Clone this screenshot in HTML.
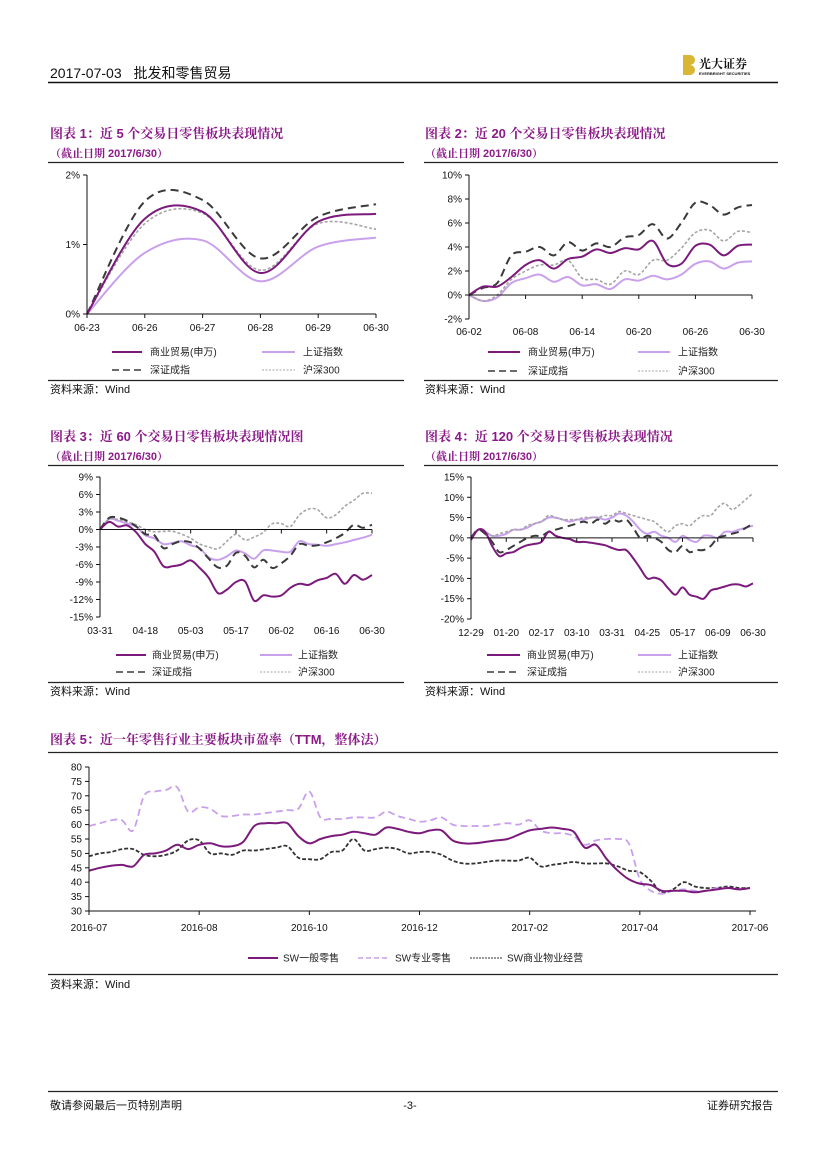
<!DOCTYPE html>
<html><head><meta charset="utf-8">
<style>
html,body{margin:0;padding:0;background:#fff;}
body{width:827px;height:1169px;position:relative;overflow:hidden;font-family:"Liberation Sans","Noto Sans CJK SC",sans-serif;}
svg{position:absolute;left:0;top:0;}
.t{font-family:"Liberation Sans","Noto Sans CJK SC",sans-serif;}
.ttl{font-family:"Liberation Sans","Noto Serif CJK SC",serif;font-weight:bold;fill:#8B1A89;font-size:13px;}
.sub{font-family:"Liberation Sans","Noto Serif CJK SC",serif;font-weight:bold;fill:#8B1A89;font-size:11px;}
.ax{font-size:10px;fill:#111;}
.lg{font-size:10px;fill:#222;}
</style></head>
<body>
<svg id="page" width="827" height="1169" viewBox="0 0 827 1169">
  <g>
    <text class="t" x="50" y="78" font-size="14" fill="#111">2017-07-03 <tspan dx="8">批发和零售贸易</tspan></text>
    <line x1="48" y1="82.5" x2="778" y2="82.5" stroke="#111" stroke-width="1.5"/>
    <g>
      <path d="M683 55 h7 a5 5 0 0 1 0 10 a5 5 0 0 1 0 10 h-7 z" fill="#D9B634"/>
      <text x="699" y="68" font-size="12" font-weight="bold" fill="#111" font-family="Liberation Serif,'Noto Serif CJK SC',serif">光大证券</text>
      <text x="699" y="75" font-size="4" fill="#111" font-weight="bold">EVERBRIGHT SECURITIES</text>
    </g>
  </g>

  <!-- titles -->
  <text class="ttl" x="50" y="138">图表 1：近 5 个交易日零售板块表现情况</text>
  <text class="sub" x="50" y="157">（截止日期 2017/6/30）</text>
  <text class="ttl" x="425" y="138">图表 2：近 20 个交易日零售板块表现情况</text>
  <text class="sub" x="425" y="157">（截止日期 2017/6/30）</text>
  <text class="ttl" x="50" y="441">图表 3：近 60 个交易日零售板块表现情况图</text>
  <text class="sub" x="50" y="460">（截止日期 2017/6/30）</text>
  <text class="ttl" x="425" y="441">图表 4：近 120 个交易日零售板块表现情况</text>
  <text class="sub" x="425" y="460">（截止日期 2017/6/30）</text>
  <text class="ttl" x="50" y="744">图表 5：近一年零售行业主要板块市盈率（TTM，整体法）</text>

  <g stroke="#222" stroke-width="1.2">
    <line x1="48" y1="162.5" x2="404" y2="162.5"/><line x1="424" y1="162.5" x2="778" y2="162.5"/>
    <line x1="48" y1="380.5" x2="404" y2="380.5"/><line x1="424" y1="380.5" x2="778" y2="380.5"/>
    <line x1="48" y1="465.5" x2="404" y2="465.5"/><line x1="424" y1="465.5" x2="778" y2="465.5"/>
    <line x1="48" y1="682.5" x2="404" y2="682.5"/><line x1="424" y1="682.5" x2="778" y2="682.5"/>
    <line x1="48" y1="752.5" x2="778" y2="752.5"/><line x1="48" y1="974.5" x2="778" y2="974.5"/>
    <line x1="48" y1="1091.5" x2="778" y2="1091.5"/>
  </g>
  <g class="t" font-size="11" fill="#111">
    <text x="50" y="393">资料来源：Wind</text>
    <text x="425" y="393">资料来源：Wind</text>
    <text x="50" y="695">资料来源：Wind</text>
    <text x="425" y="695">资料来源：Wind</text>
    <text x="50" y="988">资料来源：Wind</text>
    <text x="50" y="1109">敬请参阅最后一页特别声明</text>
    <text x="410" y="1109" text-anchor="middle">-3-</text>
    <text x="773" y="1109" text-anchor="end">证券研究报告</text>
  </g>
  <g id="charts"></g>
</svg>
<script>
// ---- Chart 1 data ----
const c1Cats = ["06-23","06-26","06-27","06-28","06-29","06-30"];
const c1Trade = [0,1.37,1.47,0.59,1.33,1.44];
const c1SH = [0,0.88,1.06,0.47,0.97,1.1];
const c1SZ = [0,1.62,1.64,0.8,1.4,1.58];
const c1HS = [0,1.3,1.45,0.63,1.3,1.22];
const c1YTicks = [0,1,2];
// ---- Chart 2 data ----
const c2TickLabels = ["06-02","06-08","06-14","06-20","06-26","06-30"];
const c2Trade = [0,0.7,0.7,1.5,2.5,2.9,2.2,3.0,3.2,3.8,3.5,3.9,3.8,4.5,2.6,2.6,4.1,4.2,3.3,4.1,4.2];
const c2SH = [0,-0.5,-0.2,1.0,1.4,1.7,1.1,1.5,0.8,0.9,0.5,1.3,1.2,1.6,1.3,1.7,2.6,2.8,2.2,2.7,2.8];
const c2SZ = [0,0.6,1.0,3.3,3.6,4.0,3.3,4.4,3.7,4.3,4.0,4.8,5.0,5.9,4.7,6.0,7.7,7.5,6.7,7.3,7.5];
const c2HS = [0,-0.5,0,1.3,2.0,2.5,2.5,2.9,1.4,1.3,0.9,2.0,1.7,2.9,2.9,3.9,5.2,5.4,4.5,5.3,5.2];
const c2YTicks = [-2,0,2,4,6,8,10];
// ---- Chart 3 data ----
const c3TickLabels = ["03-31","04-18","05-03","05-17","06-02","06-16","06-30"];
const c3Trade = [0,1.3,0.5,0.7,-0.5,-2.5,-3.8,-6.3,-6.3,-6.0,-5.3,-6.6,-8.3,-10.9,-10.3,-9.0,-8.9,-12.2,-11.3,-11.5,-11.3,-10.0,-9.3,-9.5,-8.7,-8.3,-7.6,-9.3,-7.8,-8.6,-7.8];
const c3SH = [0,1.8,1.5,1.0,0.5,-1.0,-1.5,-2.5,-2.3,-2.0,-2.7,-3.2,-4.8,-5.2,-4.6,-3.6,-4.1,-5.0,-3.6,-3.6,-3.8,-3.8,-2.0,-2.5,-2.6,-2.8,-2.5,-2.2,-1.8,-1.4,-0.9];
const c3SZ = [0,2.0,2.0,1.5,0.5,-0.8,-1.0,-3.2,-2.5,-2.0,-2.2,-3.3,-5.0,-6.5,-6.2,-4.0,-4.5,-6.5,-5.2,-6.6,-5.8,-4.5,-2.5,-2.8,-2.7,-2.2,-1.5,-0.6,0.8,0.3,0.8];
const c3HS = [0,1.8,1.7,1.3,0.8,0.0,-0.4,-0.3,-0.3,-0.8,-1.5,-2.5,-3.0,-3.3,-2.0,-0.8,-1.8,-1.3,-0.5,1.0,1.0,0.5,2.5,3.5,3.4,2.0,2.5,4.0,5.0,6.2,6.2];
const c3YTicks = [-15,-12,-9,-6,-3,0,3,6,9];
// ---- Chart 4 data ----
const c4TickLabels = ["12-29","01-20","02-17","03-10","03-31","04-25","05-17","06-09","06-30"];
const c4Trade = [-0.5,2.0,1.5,-2.0,-4.5,-3.8,-3.5,-2.5,-1.8,-1.5,-1.0,1.5,0.5,0.0,-0.3,-1.0,-1.0,-1.2,-1.5,-1.8,-2.5,-3.0,-3.0,-5.0,-7.5,-10.0,-9.8,-10.5,-12.5,-14.0,-12.2,-14.0,-14.5,-15.0,-13.0,-12.5,-12.0,-11.5,-11.5,-12.0,-11.2];
const c4SH = [0,2.0,1.5,0.5,0.5,1.0,2.0,2.0,2.5,3.5,4.0,5.0,5.0,4.5,4.0,4.5,4.5,5.0,5.0,4.5,5.0,6.0,5.5,4.0,2.0,1.0,1.5,0.5,0.0,-1.0,0.5,-0.5,-1.0,0.5,0.5,0.0,1.5,1.5,2.0,2.5,3.0];
const c4SZ = [0,2.0,1.0,-1.0,-3.5,-3.0,-2.0,-1.0,0.0,0.5,0.5,1.5,2.0,2.5,3.0,3.5,4.0,3.5,4.5,3.5,4.5,4.0,4.5,2.5,0.0,0.5,0.0,-1.0,-3.0,-3.5,-2.0,-3.5,-3.0,-3.0,-2.0,0.0,0.5,1.0,1.5,2.5,3.5];
const c4HS = [0,2.0,1.5,0.5,1.0,1.5,2.0,2.0,3.0,3.5,4.0,5.5,5.0,4.5,4.5,4.5,5.0,5.0,5.0,5.5,5.5,6.5,6.0,5.5,5.0,4.5,4.0,2.5,1.5,3.0,3.5,3.0,4.5,5.5,5.5,7.5,8.5,7.0,8.0,9.5,11.0];
const c4YTicks = [-20,-15,-10,-5,0,5,10,15];
// ---- Chart 5 data ----
const c5TickLabels = ["2016-07","2016-08","2016-10","2016-12","2017-02","2017-04","2017-06"];
const c5General = [44,45,45.7,46,45.5,49.5,50,51,53,51.5,53,53.5,52.5,52.5,54,59.5,60.5,60.5,60.5,56,53.5,55,56,56.5,57.5,57,56.5,59,58.5,57.5,57,58,58,54.5,53.5,53.5,54,54.5,55,56.5,58,58.5,59,58.5,57.5,52,53,48,44,41,39.5,39,37,37,37,36.5,37,37.5,38,37.5,38];
const c5Special = [59.5,60.5,61.5,61.5,58,70,71.5,72,73,64.5,66,65.5,63,63,63.5,63.5,64,64.5,65,65.5,71.5,62.5,62,62,62.5,62.5,62.5,64.5,63,62,61,61.5,62.5,60,59.5,59.5,59.5,60,60.5,60,61.5,58,57,57,56,53,54.5,55,55,53.5,41,37,36,37,37.5,37,37,38,38,37.5,38];
const c5Property = [49,50,50.5,51.5,51.5,49.5,49,49.5,51,54.5,54.5,50,50,49.5,51,51,51.5,52,52.5,48.5,48,48,50.5,51,55,51,51.5,52,51.5,50,50.5,50.5,49.5,47.5,46.5,46.5,47,47.5,47.5,47.5,48.5,45.5,46,46.5,47,46.5,46.5,46.5,45.5,44,43.5,40.5,36.5,37.5,40,38.5,38,38,38.5,38,38];
const c5YTicks = [30,35,40,45,50,55,60,65,70,75,80];

const NS = "http://www.w3.org/2000/svg";
const root = document.getElementById("charts");
function el(tag, attrs, parent){
  const e = document.createElementNS(NS, tag);
  for (const k in attrs) e.setAttribute(k, attrs[k]);
  (parent||root).appendChild(e);
  return e;
}
function smoothPath(pts){
  let d = "M" + pts[0][0].toFixed(1) + " " + pts[0][1].toFixed(1);
  for (let i=0;i<pts.length-1;i++){
    const p0=pts[Math.max(0,i-1)], p1=pts[i], p2=pts[i+1], p3=pts[Math.min(pts.length-1,i+2)];
    const t=6;
    const c1x=p1[0]+(p2[0]-p0[0])/t, c1y=p1[1]+(p2[1]-p0[1])/t;
    const c2x=p2[0]-(p3[0]-p1[0])/t, c2y=p2[1]-(p3[1]-p1[1])/t;
    d += " C"+c1x.toFixed(1)+" "+c1y.toFixed(1)+" "+c2x.toFixed(1)+" "+c2y.toFixed(1)+" "+p2[0].toFixed(1)+" "+p2[1].toFixed(1);
  }
  return d;
}
function chart(cfg){
  const g = el("g", {});
  
  
  const n = cfg.n;
  const xs = i => cfg.x0 + (cfg.x1 - cfg.x0) * i / (n - 1);
  const ys = v => cfg.yBot - (v - cfg.yMin) / (cfg.yMax - cfg.yMin) * (cfg.yBot - cfg.yTop);
  // series
  cfg.series.forEach(s => {
    const pts = s.data.map((v,i)=>[xs(i), ys(v)]);
    const p = el("path", {d: smoothPath(pts), fill:"none", stroke:s.color, "stroke-width":s.w, "stroke-dasharray":s.dash||"none", "stroke-linejoin":"round"}, g);
    
    
  });
  // y axis
  const ya = el("line", {x1:cfg.x0, y1:cfg.yTop, x2:cfg.x0, y2:cfg.yBot, stroke:"#111", "stroke-width":1}, g);
  
  
  cfg.yTicks.forEach(v => {
    const y = ys(v);
    el("line", {x1:cfg.x0-4, y1:y, x2:cfg.x0, y2:y, stroke:"#111", "stroke-width":1}, g);
    const t = el("text", {x:cfg.x0-7, y:y+3.5, "text-anchor":"end", class:"t ax"}, g);
    t.textContent = v + (cfg.pct ? "%" : "");
    
    
  });
  // x axis
  const axY = cfg.xAxisAt0 ? ys(0) : cfg.yBot;
  const xa = el("line", {x1:cfg.x0, y1:axY, x2:cfg.x1 + (cfg.xExtra||0), y2:axY, stroke:"#111", "stroke-width":1}, g);
  
  
  cfg.xLabels.forEach((lab, j) => {
    const i = j * cfg.tickEvery;
    const x = xs(i);
    el("line", {x1:x, y1:axY, x2:x, y2:axY+4, stroke:"#111", "stroke-width":1}, g);
    const t = el("text", {x:x, y:cfg.labelY, "text-anchor":"middle", class:"t ax"}, g);
    t.textContent = lab;
    
    
  });
  // legend
  cfg.legend.forEach(L => {
    const lg = el("g", {}, g);
    
    
    el("line", {x1:L.lx1, y1:L.y, x2:L.lx2, y2:L.y, stroke:L.color, "stroke-width":L.w, "stroke-dasharray":L.dash||"none"}, lg);
    const t = el("text", {x:L.tx, y:L.y+3.5, class:"t lg"}, lg);
    t.textContent = L.label;
  });
}
const PUR="#7B1A7B", LIL="#C9A0EC", DK="#3a3a3a", GR="#a5a5a5";
function stdSeries(tr,sh,sz,hs){
  return [
    {id:"series-shanghai-index", data:sh, color:LIL, w:2},
    {id:"series-hs300", data:hs, color:GR, w:1.6, dash:"3,2"},
    {id:"series-shenzhen-component", data:sz, color:DK, w:2, dash:"8,5"},
    {id:"series-commerce-trade", data:tr, color:PUR, w:2}
  ];
}
function stdLegend(r1,r2,a1,a2,at,b1,b2,bt){
  return [
    {label:"商业贸易(申万)", y:r1, lx1:a1, lx2:a2, tx:at, color:PUR, w:2},
    {label:"上证指数", y:r1, lx1:b1, lx2:b2, tx:bt, color:LIL, w:2},
    {label:"深证成指", y:r2, lx1:a1, lx2:a2, tx:at, color:DK, w:1.5, dash:"7,4"},
    {label:"沪深300", y:r2, lx1:b1, lx2:b2, tx:bt, color:GR, w:1, dash:"2,1.5"}
  ];
}
chart({name:"chart1-5day-performance", n:c1Cats.length, x0:87, x1:376, yTop:175, yBot:314, yMin:0, yMax:2, pct:true,
  yTicks:c1YTicks, xLabels:c1Cats, tickEvery:1, labelY:331, series:stdSeries(c1Trade,c1SH,c1SZ,c1HS),
  legend:stdLegend(352,370,112,142,150,262,295,303)});
chart({name:"chart2-20day-performance", n:c2Trade.length, x0:469, x1:752, yTop:175, yBot:319, yMin:-2, yMax:10, pct:true, xAxisAt0:true,
  yTicks:c2YTicks, xLabels:c2TickLabels, tickEvery:4, labelY:335, series:stdSeries(c2Trade,c2SH,c2SZ,c2HS),
  legend:stdLegend(352,371,488,520,528,638,670,678)});
chart({name:"chart3-60day-performance", n:c3Trade.length, x0:100, x1:372, yTop:477, yBot:617, yMin:-15, yMax:9, pct:true, xAxisAt0:true,
  yTicks:c3YTicks, xLabels:c3TickLabels, tickEvery:5, labelY:634, series:stdSeries(c3Trade,c3SH,c3SZ,c3HS),
  legend:stdLegend(655,672,116,146,152,260,292,298)});
chart({name:"chart4-120day-performance", n:c4Trade.length, x0:471, x1:753, yTop:477, yBot:619, yMin:-20, yMax:15, pct:true, xAxisAt0:true,
  yTicks:c4YTicks, xLabels:c4TickLabels, tickEvery:5, labelY:636, series:stdSeries(c4Trade,c4SH,c4SZ,c4HS),
  legend:stdLegend(655,672,487,520,527,638,671,678)});
chart({name:"chart5-pe-ttm", n:c5General.length, x0:89, x1:750, xExtra:6, yTop:767, yBot:911, yMin:30, yMax:80, pct:false,
  yTicks:c5YTicks, xLabels:c5TickLabels, tickEvery:10, labelY:931,
  series:[
    {id:"series-sw-property", data:c5Property, color:"#333", w:1.8, dash:"4,2"},
    {id:"series-sw-special-retail", data:c5Special, color:LIL, w:1.8, dash:"7,4"},
    {id:"series-sw-general-retail", data:c5General, color:PUR, w:2}
  ],
  legend:[
    {label:"SW一般零售", y:958, lx1:248, lx2:278, tx:283, color:PUR, w:2},
    {label:"SW专业零售", y:958, lx1:358, lx2:390, tx:395, color:LIL, w:1.5, dash:"5,3"},
    {label:"SW商业物业经营", y:958, lx1:470, lx2:502, tx:507, color:"#333", w:1, dash:"2,1"}
  ]});
</script>
</body></html>
